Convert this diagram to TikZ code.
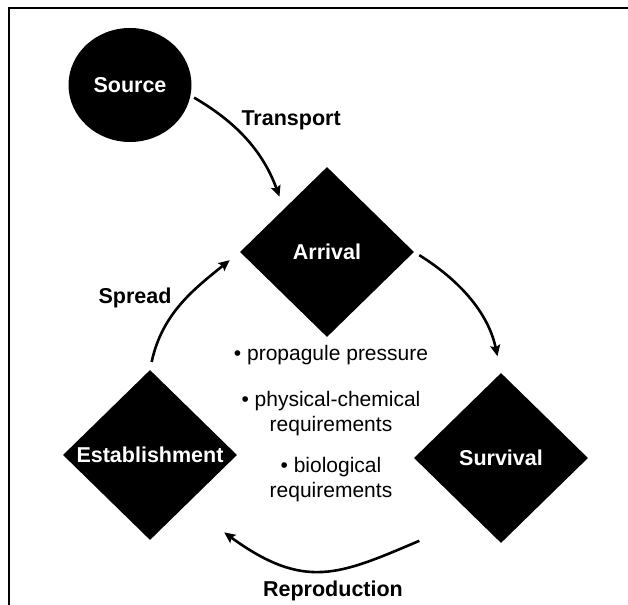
\documentclass[tikz,border=0pt]{standalone}
\usepackage{fontspec}
\setmainfont{Liberation Sans}
\usetikzlibrary{arrows.meta,shapes.geometric}

\begin{document}
\begin{tikzpicture}[x=1bp, y=1bp,
        stage/.style={diamond, fill=black, text=white, inner sep=0pt, minimum width=174bp, minimum height=170bp, font=\fontsize{21.5bp}{24bp}\selectfont\bfseries},
        lbl/.style={font=\fontsize{21.5bp}{24bp}\selectfont\bfseries},
        req/.style={align=center, font=\fontsize{21bp}{25bp}\selectfont},
        arr/.style={-{Stealth[length=11bp, width=10bp, inset=2bp]}, line width=2.6bp}]
      \useasboundingbox (0,0) rectangle (628,605);
      \draw[line width=1.5bp] (9,0) -- (9,597) -- (628,597);
      \node[ellipse, fill=black, text=white, inner sep=0pt, minimum width=123bp, minimum height=114bp, font=\fontsize{21.5bp}{24bp}\selectfont\bfseries] (src) at (130,520) {Source};
      \node[stage] (arrival) at (327,353) {Arrival};
      \node[stage] (surv) at (501,147) {Survival};
      \node[stage] (estab) at (150,150) {Establishment};
      \node[lbl, anchor=west] (ltrans) at (238,485) {Transport};
      \node[lbl] (lspread) at (135,307) {Spread};
      \node[lbl] (lrepro) at (333,14) {Reproduction};
      \node[req, anchor=base] (r1) at (331,244) {• propagule pressure};
      \node[req] (r2) at (331,191) {• physical-chemical\\requirements};
      \node[req] (r3) at (331,125) {• biological\\requirements};
      \draw[arr, shorten <=4bp, shorten >=13bp] (src.-10) to[out=-30, in=110] (arrival.135);
      \draw[arr, shorten <=6bp, shorten >=17bp] (arrival.east) to[out=-32, in=102] (surv.north);
      \draw[arr, shorten <=60bp, shorten >=47bp] (surv.246) to[out=203, in=-36, looseness=1.3] (estab.-54);
      \draw[arr, shorten <=8bp, shorten >=13bp] (estab.north) to[out=78, in=-141] (arrival.west);
\end{tikzpicture}
\end{document}
